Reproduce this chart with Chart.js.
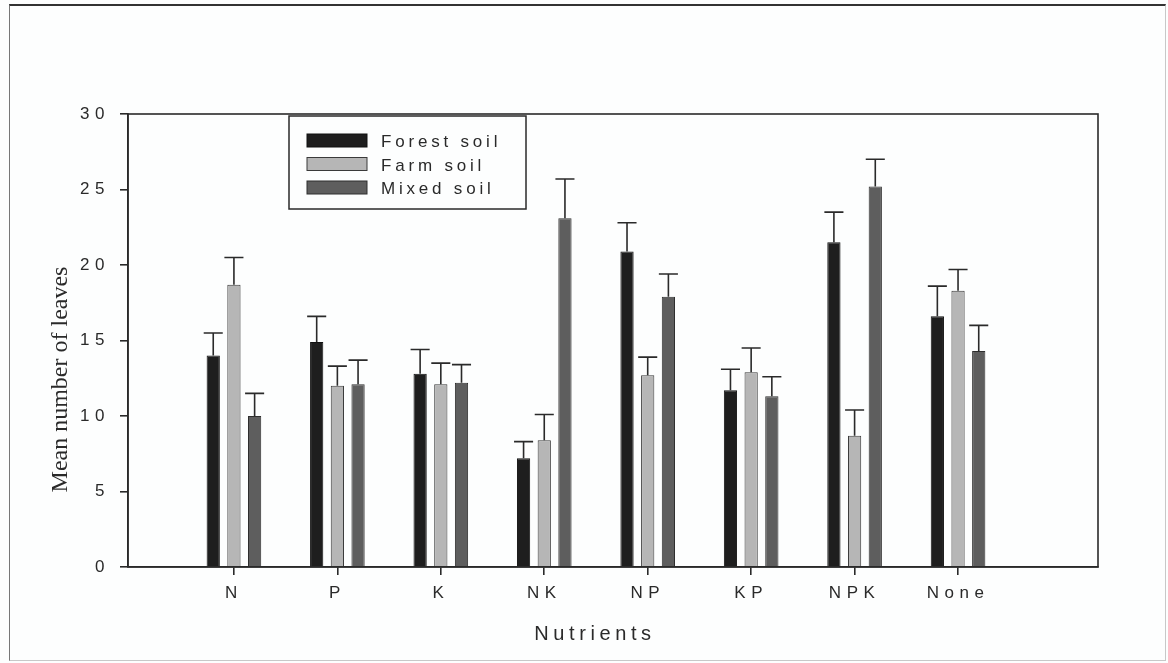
<!DOCTYPE html>
<html>
<head>
<meta charset="utf-8">
<script src="https://cdn.jsdelivr.net/npm/chart.js@4.4.1/dist/chart.umd.min.js"></script>
<style>
    html, body { margin: 0; padding: 0; background: #fdfefe; }
    #wrap { position: absolute; left: 0; top: 0; width: 1168px; height: 663px; }
    #frame {
        position: absolute; left: 9px; top: 4px; width: 1155px; height: 654px;
        border-top: 2px solid #333; border-left: 1px solid #777;
        border-right: 1px solid #c8c8c8; border-bottom: 1px solid #c8c8c8;
        pointer-events: none;
    }
</style>
</head>
<body>
<div id="wrap">
    <canvas id="chart" width="1168" height="663"></canvas>
    <div id="frame"></div>
</div>
<script>
const nutrients = ['N', 'P', 'K', 'NK', 'NP', 'KP', 'NPK', 'None'];
const seriesNames = ['Forest soil', 'Farm soil', 'Mixed soil'];

const forestMean = [14.0, 14.9, 12.8, 7.2, 20.9, 11.7, 21.5, 16.6];
const farmMean = [18.7, 12.0, 12.1, 8.4, 12.7, 12.9, 8.7, 18.3];
const mixedMean = [10.0, 12.1, 12.2, 23.1, 17.9, 11.3, 25.2, 14.3];

const forestErr = [1.5, 1.7, 1.6, 1.1, 1.9, 1.4, 2.0, 2.0];
const farmErr = [1.8, 1.3, 1.4, 1.7, 1.2, 1.6, 1.7, 1.4];
const mixedErr = [1.5, 1.6, 1.2, 2.6, 1.5, 1.3, 1.8, 1.7];

const yTicks = [0, 5, 10, 15, 20, 25, 30];

const fills = ['#1e1e1e', '#b6b6b6', '#5e5e5e'];
const edges = ['#111111', '#3a3a3a', '#2e2e2e'];
const ink = '#2a2a2a';

const toPoints = (arr) => arr.map((v, i) => ({ x: i, y: v }));

const errorBars = {
    id: 'errorBars',
    afterDatasetsDraw(chart) {
        const ctx = chart.ctx;
        const yScale = chart.scales.y;
        const errs = [forestErr, farmErr, mixedErr];
        ctx.save();
        ctx.strokeStyle = ink;
        ctx.lineWidth = 1.6;
        chart.data.datasets.forEach((ds, di) => {
            const meta = chart.getDatasetMeta(di);
            meta.data.forEach((bar, j) => {
                const top = yScale.getPixelForValue(ds.data[j].y + errs[di][j]);
                const half = bar.width * 0.72;
                ctx.beginPath();
                ctx.moveTo(bar.x, bar.y);
                ctx.lineTo(bar.x, top);
                ctx.moveTo(bar.x - half, top);
                ctx.lineTo(bar.x + half, top);
                ctx.stroke();
            });
        });
        ctx.restore();
    }
};

// spaced-out lettering like the original figure
const decorations = {
    id: 'decorations',
    beforeDraw(chart) {
        chart.ctx.letterSpacing = '5.5px';
    },
    afterDraw(chart) {
        const ctx = chart.ctx;
        const area = chart.chartArea;
        const xs = chart.scales.x;
        ctx.save();

        // plot frame
        ctx.strokeStyle = ink;
        ctx.lineWidth = 1.6;
        ctx.strokeRect(area.left, area.top, area.right - area.left, area.bottom - area.top);

        // legend box
        const lx = area.left + 161, ly = area.top + 2;
        ctx.lineWidth = 1.5;
        ctx.strokeRect(lx, ly, 237, 93);
        ctx.letterSpacing = '3.8px';
        ctx.font = '17px "Liberation Sans", Arial, sans-serif';
        ctx.textAlign = 'left';
        ctx.textBaseline = 'alphabetic';
        seriesNames.forEach((name, i) => {
            const base = ly + 31 + i * 23.5;
            ctx.fillStyle = fills[i];
            ctx.fillRect(lx + 18, base - 13, 60, 13);
            ctx.strokeStyle = edges[i];
            ctx.lineWidth = 1;
            ctx.strokeRect(lx + 18, base - 13, 60, 13);
            ctx.fillStyle = ink;
            ctx.fillText(name, lx + 92, base);
        });

        // x axis title
        ctx.letterSpacing = '4.6px';
        ctx.font = '20px "Liberation Sans", Arial, sans-serif';
        ctx.textAlign = 'center';
        const mid = (xs.getPixelForValue(0) + xs.getPixelForValue(nutrients.length - 1)) / 2;
        ctx.fillText('Nutrients', mid - 1, area.bottom + 73);

        // y axis title
        ctx.letterSpacing = '0px';
        ctx.font = '24px "Liberation Serif", "Times New Roman", serif';
        ctx.translate(area.left - 61, (area.top + area.bottom) / 2 + 39);
        ctx.rotate(-Math.PI / 2);
        ctx.fillText('Mean number of leaves', 0, 0);
        ctx.restore();
    }
};

const ctx = document.getElementById('chart').getContext('2d');
new Chart(ctx, {
    type: 'bar',
    data: {
        datasets: [
            { label: seriesNames[0], data: toPoints(forestMean), backgroundColor: fills[0], borderColor: edges[0], borderWidth: 1 },
            { label: seriesNames[1], data: toPoints(farmMean), backgroundColor: fills[1], borderColor: edges[1], borderWidth: 1 },
            { label: seriesNames[2], data: toPoints(mixedMean), backgroundColor: fills[2], borderColor: edges[2], borderWidth: 1 }
        ]
    },
    options: {
        responsive: false,
        animation: false,
        devicePixelRatio: 1,
        categoryPercentage: 0.6,
        barPercentage: 0.64,
        layout: { padding: { left: 0, top: 114, right: 70, bottom: 0 } },
        plugins: {
            legend: { display: false },
            tooltip: { enabled: false }
        },
        scales: {
            x: {
                type: 'linear',
                offset: false,
                min: -1.024,
                max: 8.353,
                afterBuildTicks: (scale) => {
                    scale.ticks = nutrients.map((_, i) => ({ value: i }));
                },
                afterFit: (scale) => { scale.height = 96; },
                ticks: {
                    autoSkip: false,
                    maxRotation: 0,
                    padding: 8,
                    color: ink,
                    font: { family: '"Liberation Sans", Arial, sans-serif', size: 17 },
                    callback: (v) => nutrients[v]
                },
                grid: { offset: false, drawOnChartArea: false, drawTicks: true, tickLength: 8, color: ink, lineWidth: 1.6 },
                border: { color: ink, width: 1.6 }
            },
            y: {
                min: 0,
                max: 30,
                afterBuildTicks: (scale) => {
                    scale.ticks = yTicks.map(v => ({ value: v }));
                },
                afterFit: (scale) => { scale.width = 128; },
                ticks: {
                    padding: 10,
                    color: ink,
                    font: { family: '"Liberation Sans", Arial, sans-serif', size: 17 }
                },
                grid: { drawOnChartArea: false, drawTicks: true, tickLength: 8, color: ink, lineWidth: 1.6 },
                border: { color: ink, width: 1.6 }
            }
        }
    },
    plugins: [errorBars, decorations]
});
</script>
</body>
</html>
